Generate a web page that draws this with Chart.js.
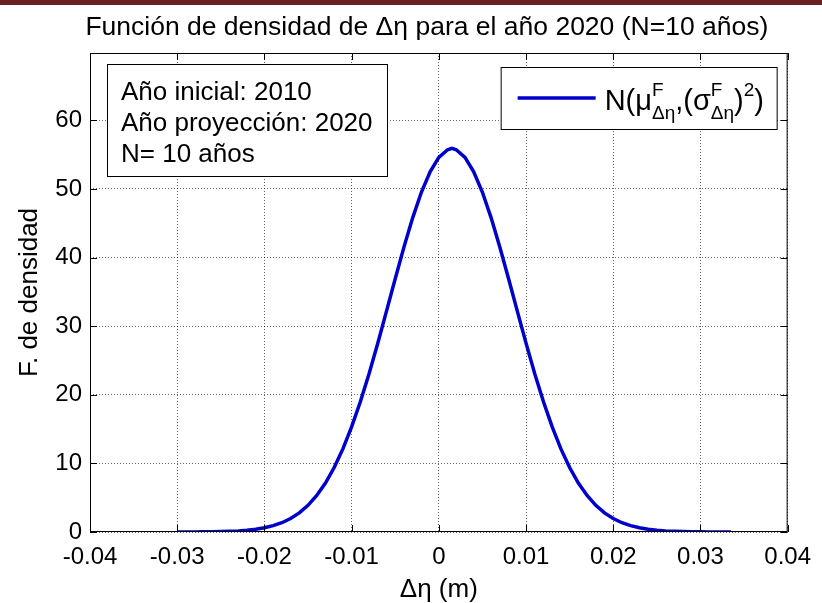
<!DOCTYPE html>
<html>
<head>
<meta charset="utf-8">
<script src="https://cdn.jsdelivr.net/npm/chart.js@4/dist/chart.umd.min.js"></script>
<style>
  html, body { margin: 0; padding: 0; background: #fff; overflow: hidden; }
  #wrap { position: relative; width: 822px; height: 603px; overflow: hidden; }
  #band { position: absolute; left: 0; top: 0; width: 822px; height: 5px; background: #6b2024; }
  canvas { display: block; }
</style>
</head>
<body>
<div id="wrap">
  <canvas id="c" width="822" height="603"></canvas>
  <div id="band"></div>
</div>
<script>
// Δη sample positions (m)
const deltaEta = [
  -0.030, -0.029, -0.028, -0.027, -0.026, -0.025, -0.024, -0.023, -0.022, -0.021,
  -0.020, -0.019, -0.018, -0.017, -0.016, -0.015, -0.014, -0.013, -0.012, -0.011,
  -0.010, -0.009, -0.008, -0.007, -0.006, -0.005, -0.004, -0.003, -0.002, -0.001,
   0.000,  0.001,  0.0015, 0.002,  0.003,  0.004,  0.005,  0.006,  0.007,  0.008,
   0.009,  0.010,  0.011,  0.012,  0.013,  0.014,  0.015,  0.016,  0.017,  0.018,
   0.019,  0.020,  0.021,  0.022,  0.023,  0.024,  0.025,  0.026,  0.027,  0.028,
   0.029,  0.030,  0.031,  0.032,  0.033,  0.0335
];
// density values at each Δη
const density = [
   0.00,  0.01,  0.01,  0.02,  0.03,  0.06,  0.10,  0.16,  0.25,  0.39,
   0.61,  0.92,  1.35,  1.96,  2.79,  3.89,  5.32,  7.14,  9.39, 12.11,
  15.31, 18.97, 23.07, 27.52, 32.19, 36.91, 41.51, 45.78, 49.50, 52.49,
  54.58, 55.70, 55.90, 55.70, 54.58, 52.49, 49.50, 45.78, 41.51, 36.91,
  32.19, 27.52, 23.07, 18.97, 15.31, 12.11,  9.39,  7.14,  5.32,  3.89,
   2.79,  1.96,  1.35,  0.92,  0.61,  0.39,  0.25,  0.16,  0.10,  0.06,
   0.03,  0.02,  0.01,  0.01,  0.00,  0.00
];
const xTicks = [-0.04, -0.03, -0.02, -0.01, 0, 0.01, 0.02, 0.03, 0.04];
const xTickLabels = ['-0.04', '-0.03', '-0.02', '-0.01', '0', '0.01', '0.02', '0.03', '0.04'];
const yTicks = [0, 10, 20, 30, 40, 50, 60];
const yTickLabels = ['0', '10', '20', '30', '40', '50', '60'];

const chartTitle = 'Función de densidad de Δη para el año 2020 (N=10 años)';
const xTitle = 'Δη (m)';
const yTitle = 'F. de densidad';
const infoLines = ['Año inicial: 2010', 'Año proyección: 2020', 'N= 10 años'];
// legend entry: N(μ^F_Δη,(σ^F_Δη)^2)
const legendParts = [
  { text: 'N(μ' }, { sup: 'F', sub: 'Δη' },
  { text: ',(σ' }, { sup: 'F', sub: 'Δη' },
  { text: ')' }, { sup: '2' }, { text: ')' }
];

const FAMILY = '"Liberation Sans", Arial, Helvetica, sans-serif';
const lineColor = '#0000cc';

const framePlugin = {
  id: 'frame',
  afterDatasetsDraw(chart) {
    const { ctx, chartArea: a, scales: { x, y } } = chart;
    ctx.save();
    // axes box
    ctx.strokeStyle = '#000';
    ctx.lineWidth = 1;
    ctx.strokeRect(a.left + 0.5, a.top + 0.5, a.right - a.left - 1, a.bottom - a.top - 1);
    // inward tick marks on all four sides
    const tl = 7;
    ctx.beginPath();
    xTicks.forEach(v => {
      const px = Math.round(x.getPixelForValue(v)) + 0.5;
      ctx.moveTo(px, a.bottom); ctx.lineTo(px, a.bottom - tl);
      ctx.moveTo(px, a.top); ctx.lineTo(px, a.top + tl);
    });
    yTicks.forEach(v => {
      const py = Math.round(y.getPixelForValue(v)) + 0.5;
      ctx.moveTo(a.left, py); ctx.lineTo(a.left + tl, py);
      ctx.moveTo(a.right, py); ctx.lineTo(a.right - tl, py);
    });
    ctx.stroke();

    // title
    ctx.fillStyle = '#000';
    ctx.font = '26.5px ' + FAMILY;
    ctx.textAlign = 'center';
    ctx.textBaseline = 'middle';
    ctx.fillText(chartTitle, (a.left + a.right) / 2 - 12, 28);

    // info text box
    const bx = a.left + 17, by = a.top + 11, bw = 280, bh = 112;
    ctx.fillStyle = '#fff';
    ctx.fillRect(bx, by, bw, bh);
    ctx.strokeStyle = '#000';
    ctx.strokeRect(bx + 0.5, by + 0.5, bw, bh);
    ctx.fillStyle = '#000';
    ctx.font = '26px ' + FAMILY;
    ctx.textAlign = 'left';
    ctx.textBaseline = 'alphabetic';
    infoLines.forEach((t, i) => ctx.fillText(t, bx + 14, by + 36 + i * 31));

    // legend box
    const lw = 276, lh = 62;
    const lx = a.right - 287, ly = a.top + 14;
    ctx.fillStyle = '#fff';
    ctx.fillRect(lx, ly, lw, lh);
    ctx.strokeStyle = '#000';
    ctx.strokeRect(lx + 0.5, ly + 0.5, lw, lh);
    const ds = chart.data.datasets[0];
    ctx.strokeStyle = ds.borderColor;
    ctx.lineWidth = ds.borderWidth;
    ctx.beginPath();
    ctx.moveTo(lx + 17, ly + 31);
    ctx.lineTo(lx + 95, ly + 31);
    ctx.stroke();
    ctx.fillStyle = '#000';
    let tx = lx + 104;
    const base = ly + 43;
    legendParts.forEach(p => {
      if (p.text) {
        ctx.font = '29px ' + FAMILY;
        ctx.fillText(p.text, tx, base);
        tx += ctx.measureText(p.text).width;
      } else {
        ctx.font = '19px ' + FAMILY;
        let w = 0;
        if (p.sup) { ctx.fillText(p.sup, tx, base - 14); w = Math.max(w, ctx.measureText(p.sup).width); }
        if (p.sub) { ctx.fillText(p.sub, tx, base + 9); w = Math.max(w, ctx.measureText(p.sub).width); }
        tx += w;
      }
    });
    ctx.restore();
  }
};

new Chart(document.getElementById('c').getContext('2d'), {
  type: 'line',
  data: {
    datasets: [{
      label: 'N(μ F Δη,(σ F Δη)^2)',
      data: deltaEta.map((v, i) => ({ x: v, y: density[i] })),
      borderColor: lineColor,
      borderWidth: 3.5,
      pointRadius: 0,
      tension: 0,
      fill: false
    }]
  },
  options: {
    responsive: false,
    animation: false,
    devicePixelRatio: 1,
    layout: { padding: { top: 53, right: 27, left: 0, bottom: 0 } },
    plugins: { legend: { display: false }, title: { display: false }, tooltip: { enabled: false } },
    scales: {
      x: {
        type: 'linear',
        min: -0.04, max: 0.04,
        afterBuildTicks: s => { s.ticks = xTicks.map(v => ({ value: v })); },
        afterFit: s => { s.height = 71; },
        ticks: {
          callback: (v, i) => xTickLabels[i],
          padding: 11, color: '#000', maxRotation: 0, autoSkip: false,
          font: { size: 24, family: FAMILY }
        },
        grid: { color: 'rgba(0,0,0,0.6)', lineWidth: 1, drawTicks: false },
        border: { display: false, dash: [1, 2] },
        title: { display: true, text: xTitle, color: '#000', padding: 0,
                 font: { size: 26, family: FAMILY, lineHeight: 1 } }
      },
      y: {
        type: 'linear',
        min: 0, max: 69.8,
        afterBuildTicks: s => { s.ticks = yTicks.map(v => ({ value: v })); },
        afterFit: s => { s.width = 90; },
        ticks: {
          callback: (v, i) => yTickLabels[i],
          padding: 8, color: '#000',
          font: { size: 24, family: FAMILY }
        },
        grid: { color: 'rgba(0,0,0,0.6)', lineWidth: 1, drawTicks: false },
        border: { display: false, dash: [1, 2] },
        title: { display: true, text: yTitle, color: '#000', padding: { top: 17, bottom: 0 },
                 font: { size: 26, family: FAMILY, lineHeight: 1 } }
      }
    }
  },
  plugins: [framePlugin]
});
</script>
</body>
</html>
